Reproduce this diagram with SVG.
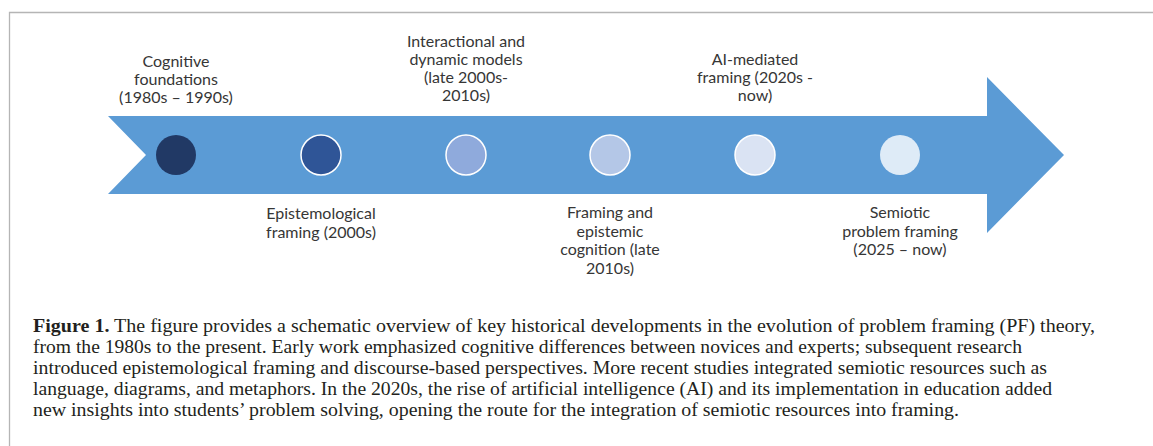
<svg xmlns="http://www.w3.org/2000/svg" width="1153" height="446" viewBox="0 0 1153 446">
  <style>
    .frame { fill: none; stroke: #b5b5b5; stroke-width: 1.3; }
    .band { fill: #5b9bd5; }
    .dot { stroke: #ffffff; stroke-width: 1.5; }
    .lbl { font-family: Lato, "Liberation Sans", sans-serif; font-size: 16px; fill: #363636; text-anchor: middle; }
    .cap { font-family: "Liberation Serif", serif; font-size: 18px; fill: #231f20; }
    .capb { font-weight: bold; }
  </style>

  <!-- page frame: top and left rules -->
  <path class="frame" d="M9.5,446 L9.5,12.5 L1153,12.5"/>

  <!-- timeline band with notched tail and arrowhead -->
  <g id="connectors">
    <path class="band" d="M108,116 L987,116 L987,77 L1064,155 L987,233 L987,194 L108,194 L146,155 Z"/>
  </g>

  <g id="node-cognitive">
    <circle cx="176" cy="155" r="20" fill="#213965"/>
    <text class="lbl"><tspan x="176" y="67">Cognitive</tspan><tspan x="176" y="85">foundations</tspan><tspan x="176" y="103">(1980s – 1990s)</tspan></text>
  </g>

  <g id="node-epistemological">
    <circle class="dot" cx="321" cy="155" r="20" fill="#2f5597"/>
    <text class="lbl"><tspan x="321" y="219">Epistemological</tspan><tspan x="321" y="238">framing (2000s)</tspan></text>
  </g>

  <g id="node-interactional">
    <circle class="dot" cx="466" cy="155" r="20" fill="#8faadc"/>
    <text class="lbl"><tspan x="466" y="47">Interactional and</tspan><tspan x="466" y="65">dynamic models</tspan><tspan x="466" y="83">(late 2000s-</tspan><tspan x="466" y="101">2010s)</tspan></text>
  </g>

  <g id="node-epistemic-cognition">
    <circle class="dot" cx="610" cy="155" r="20" fill="#b4c7e7"/>
    <text class="lbl"><tspan x="610" y="218">Framing and</tspan><tspan x="610" y="237">epistemic</tspan><tspan x="610" y="255">cognition (late</tspan><tspan x="610" y="274">2010s)</tspan></text>
  </g>

  <g id="node-ai-mediated">
    <circle class="dot" cx="755" cy="155" r="20" fill="#dae3f3"/>
    <text class="lbl"><tspan x="755" y="65">AI-mediated</tspan><tspan x="755" y="83">framing (2020s -</tspan><tspan x="755" y="101">now)</tspan></text>
  </g>

  <g id="node-semiotic">
    <circle cx="900" cy="155" r="20" fill="#deebf7"/>
    <text class="lbl"><tspan x="900" y="218">Semiotic</tspan><tspan x="900" y="237">problem framing</tspan><tspan x="900" y="255">(2025 – now)</tspan></text>
  </g>

  <!-- figure caption -->
  <g id="caption">
    <text class="cap" x="33" y="332" textLength="1062" lengthAdjust="spacingAndGlyphs"><tspan class="capb">Figure 1.</tspan> The figure provides a schematic overview of key historical developments in the evolution of problem framing (PF) theory,</text>
    <text class="cap" x="33" y="353" textLength="989" lengthAdjust="spacingAndGlyphs">from the 1980s to the present. Early work emphasized cognitive differences between novices and experts; subsequent research</text>
    <text class="cap" x="33" y="374" textLength="1014" lengthAdjust="spacingAndGlyphs">introduced epistemological framing and discourse-based perspectives. More recent studies integrated semiotic resources such as</text>
    <text class="cap" x="33" y="395" textLength="1019" lengthAdjust="spacingAndGlyphs">language, diagrams, and metaphors. In the 2020s, the rise of artificial intelligence (AI) and its implementation in education added</text>
    <text class="cap" x="33" y="416" textLength="926" lengthAdjust="spacingAndGlyphs">new insights into students’ problem solving, opening the route for the integration of semiotic resources into framing.</text>
  </g>
</svg>
